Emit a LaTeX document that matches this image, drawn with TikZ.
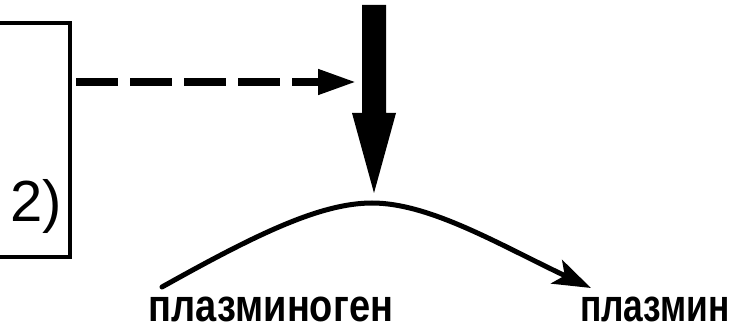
\documentclass[tikz,border=0pt]{standalone}
\usepackage{graphicx}
\usepackage{fontspec}
\setmainfont{Liberation Sans}
\usetikzlibrary{arrows.meta}
\begin{document}
\begin{tikzpicture}[x=1pt,y=-1pt,
  framebox/.style={draw, line width=3.5pt, outer sep=0pt, inner sep=0pt},
  boxtext/.style={font=\fontsize{58}{58}\selectfont, inner sep=0pt},
  lbl/.style={font=\fontsize{38}{40}\selectfont\bfseries, inner sep=0pt},
  dasharrow/.style={line width=7.5pt, dash pattern=on 42pt off 12pt, -{Triangle[length=38pt,width=24pt]}},
  curvearrow/.style={line width=5pt, line cap=round, -{Stealth[length=38pt,width=26pt,inset=9pt]}},
  bigarrow/.style={fill=black}]
\useasboundingbox (0,0) rectangle (729,331);
\clip (0,0) rectangle (729,331);
\fill[white] (0,0) rectangle (729,331);
% box cut by the left edge
\node[framebox, minimum width=130pt, minimum height=234pt, anchor=north east] (box) at (70,23) {};
\node[boxtext, anchor=base east] (t2) at (62,222) {2)};
% thick vertical arrow
\coordinate (vtip) at (374,193);
\fill[bigarrow] (362,5) -- (386,5) -- (386,113) -- (396,113) -- (vtip) -- (352,113) -- (362,113) -- cycle;
% dashed arrow
\coordinate (dashend) at (356,82);
\draw[dasharrow, shorten <=6pt] (box.east |- dashend) -- (dashend);
% curve
\coordinate (cs) at (162,287);
\coordinate (cp) at (372,203);
\coordinate (ce) at (591,288);
\draw[curvearrow] (cs) .. controls (255,235) and (320,203) .. (cp) .. controls (430,203) and (500,245) .. (ce);
% labels
\node[lbl, anchor=base] (plg) at (271,322) {\scalebox{1}[1.2]{плазминоген}};
\node[lbl, anchor=base] (pl) at (655,322) {\scalebox{0.93}[1.2]{плазмин}};
\end{tikzpicture}
\end{document}
